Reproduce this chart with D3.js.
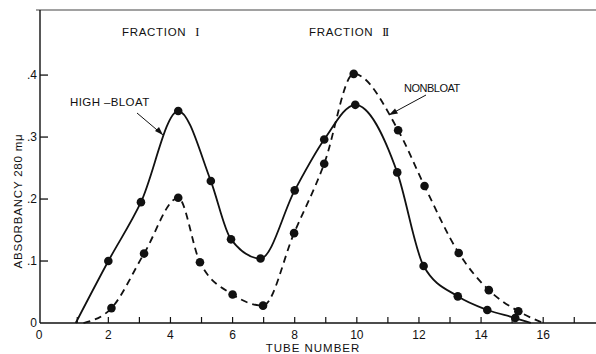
<!DOCTYPE html>
<html>
<head>
<meta charset="utf-8">
<script src="https://cdn.jsdelivr.net/npm/d3@7"></script>
<style>
  body { margin: 0; background: #fff; }
  text { font-family: "Liberation Sans", "DejaVu Sans", sans-serif; fill: #111; }
</style>
</head>
<body>
<svg width="596" height="354"></svg>
<script>
// tube numbers and absorbancy
const highBloatTubes = [2, 3.05, 4.25, 5.3, 5.95, 6.9, 8, 8.95, 9.95, 11.3, 12.15, 13.25, 14.2, 15.1]
const highBloatValues = [0.10, 0.195, 0.342, 0.229, 0.135, 0.104, 0.214, 0.296, 0.352, 0.243, 0.092, 0.043, 0.021, 0.008]
const highBloatStart = [0.95, 0]
const highBloatEnd = [15.6, 0]

const nonBloatTubes = [2.1, 3.15, 4.25, 4.95, 6, 6.98, 7.98, 8.95, 9.9, 11.33, 12.18, 13.28, 14.25, 15.2]
const nonBloatValues = [0.024, 0.112, 0.202, 0.098, 0.046, 0.028, 0.145, 0.257, 0.402, 0.311, 0.221, 0.113, 0.053, 0.019]
const nonBloatStart = [1.2, 0]
const nonBloatEnd = [16.0, 0]

const xTicks = d3.range(1, 18)
const xLabels = [0, 2, 4, 6, 8, 10, 12, 14, 16]
const yTicks = [0.1, 0.2, 0.3, 0.4]

const svg = d3.select('svg'),
    width = +svg.attr('width'),
    height = +svg.attr('height')

const x = d3.scaleLinear().domain([-0.2, 17.7]).range([40, 596])
const y = d3.scaleLinear().domain([0, 0.505]).range([323, 10])

function points(tubes, values, start, end) {
    const pts = tubes.map((t, i) => [t, values[i]])
    return [start, ...pts, end]
}

// frame
svg.append('line')
    .attr('x1', x(-0.2) - 4).attr('x2', x(17.7))
    .attr('y1', y(0.505)).attr('y2', y(0.505))
    .attr('stroke', '#444').attr('stroke-width', 1.1)
svg.append('line')
    .attr('x1', x(-0.2)).attr('x2', x(-0.2))
    .attr('y1', y(0.505)).attr('y2', y(0))
    .attr('stroke', '#111').attr('stroke-width', 1.4)
svg.append('line')
    .attr('x1', x(-0.2)).attr('x2', x(17.7))
    .attr('y1', y(0)).attr('y2', y(0))
    .attr('stroke', '#111').attr('stroke-width', 1.6)

// ticks
svg.append('g').selectAll('line')
    .data(xTicks)
    .enter().append('line')
    .attr('x1', d => x(d)).attr('x2', d => x(d))
    .attr('y1', y(0)).attr('y2', y(0) - 6)
    .attr('stroke', '#111').attr('stroke-width', 1.2)

svg.append('g').selectAll('text')
    .data(xLabels)
    .enter().append('text')
    .attr('x', d => d === 0 ? x(-0.2) - 1 : x(d))
    .attr('y', 339)
    .attr('text-anchor', 'middle')
    .attr('font-size', 12)
    .text(d => d)

svg.append('g').selectAll('line')
    .data(yTicks)
    .enter().append('line')
    .attr('x1', x(-0.2)).attr('x2', x(-0.2) + 8)
    .attr('y1', d => y(d)).attr('y2', d => y(d))
    .attr('stroke', '#111').attr('stroke-width', 1.3)

svg.append('g').selectAll('text')
    .data([0, ...yTicks])
    .enter().append('text')
    .attr('x', 37)
    .attr('y', d => y(d) + 4)
    .attr('text-anchor', 'end')
    .attr('font-size', 12)
    .text(d => d === 0 ? '0' : '.' + Math.round(d * 10))

// axis titles
svg.append('text')
    .attr('transform', 'translate(22,201) rotate(-90)')
    .attr('text-anchor', 'middle')
    .attr('font-size', 11.5)
    .attr('letter-spacing', 0.8)
    .text('ABSORBANCY 280 mμ')

svg.append('text')
    .attr('x', 313).attr('y', 352)
    .attr('text-anchor', 'middle')
    .attr('font-size', 11.5)
    .attr('letter-spacing', 1)
    .text('TUBE  NUMBER')

// curves
const line = d3.line()
    .x(d => x(d[0]))
    .y(d => y(d[1]))
    .curve(d3.curveMonotoneX)

svg.append('path')
    .datum(points(highBloatTubes, highBloatValues, highBloatStart, highBloatEnd))
    .attr('d', line)
    .attr('fill', 'none')
    .attr('stroke', '#111')
    .attr('stroke-width', 1.8)

svg.append('path')
    .datum(points(nonBloatTubes, nonBloatValues, nonBloatStart, nonBloatEnd))
    .attr('d', line)
    .attr('fill', 'none')
    .attr('stroke', '#111')
    .attr('stroke-width', 1.8)
    .attr('stroke-dasharray', '7,5')

svg.append('g').selectAll('circle')
    .data(highBloatTubes.map((t, i) => [t, highBloatValues[i]]))
    .enter().append('circle')
    .attr('cx', d => x(d[0])).attr('cy', d => y(d[1]))
    .attr('r', 4.3)
    .attr('fill', '#111')

svg.append('g').selectAll('circle')
    .data(nonBloatTubes.map((t, i) => [t, nonBloatValues[i]]))
    .enter().append('circle')
    .attr('cx', d => x(d[0])).attr('cy', d => y(d[1]))
    .attr('r', 4.3)
    .attr('fill', '#111')

// annotations
function fraction(xPos, numeral) {
    const t = svg.append('text')
        .attr('x', xPos).attr('y', 36)
        .attr('font-size', 11.5).attr('letter-spacing', 0.7)
    t.append('tspan').text('FRACTION ')
    t.append('tspan')
        .attr('dx', 5)
        .attr('font-family', '"Liberation Serif", "DejaVu Serif", serif')
        .attr('font-size', 12.5)
        .attr('letter-spacing', -1.5)
        .text(numeral)
}
fraction(122, 'I')
fraction(309, 'II')

svg.append('text')
    .attr('x', 70).attr('y', 106)
    .attr('font-size', 11.5).attr('letter-spacing', 0.4)
    .text('HIGH  –BLOAT')
svg.append('text')
    .attr('x', 404).attr('y', 92)
    .attr('font-size', 11).attr('letter-spacing', -0.5)
    .text('NONBLOAT')

svg.append('line')
    .attr('x1', 137).attr('y1', 113).attr('x2', 163).attr('y2', 135)
    .attr('stroke', '#111').attr('stroke-width', 1)
svg.append('path')
    .attr('d', 'M163,135 L155,131 L159,127 Z')
    .attr('fill', '#111')
svg.append('line')
    .attr('x1', 426).attr('y1', 95).attr('x2', 389).attr('y2', 115)
    .attr('stroke', '#111').attr('stroke-width', 1)
svg.append('path')
    .attr('d', 'M389,115 L395,108.5 L398,113.5 Z')
    .attr('fill', '#111')
</script>
</body>
</html>
